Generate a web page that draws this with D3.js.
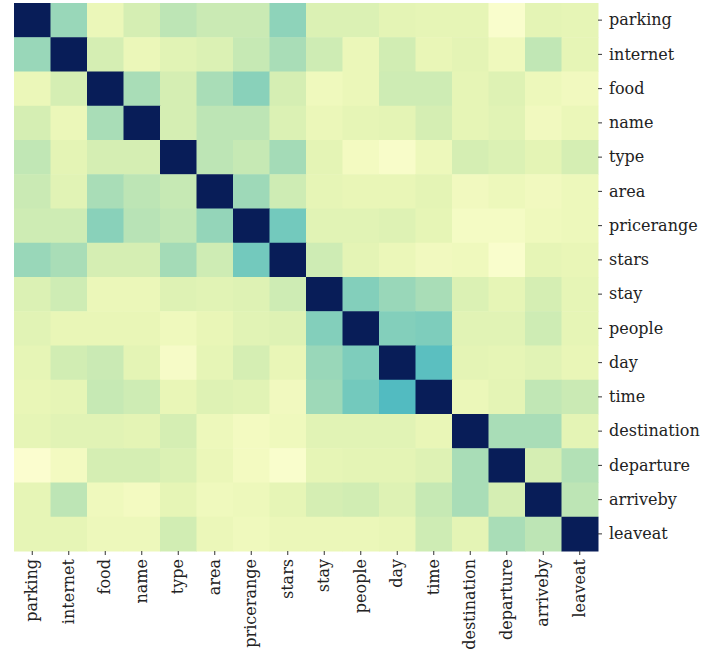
<!DOCTYPE html>
<html>
<head>
<meta charset="utf-8">
<script src="https://cdn.jsdelivr.net/npm/d3@7"></script>
<style>
  html, body { margin: 0; padding: 0; background: #fff; }
  svg text { font-family: "DejaVu Serif", serif; fill: #222; }
</style>
</head>
<body>
<svg id="chart" width="702" height="651"></svg>
<script>
// Slot names (rows and columns share the same order)
const slots = ["parking", "internet", "food", "name", "type", "area", "pricerange", "stars",
               "stay", "people", "day", "time", "destination", "departure", "arriveby", "leaveat"];

// Pairwise similarity, one row per slot
const parkingRow     = [1.00, 0.33, 0.12, 0.20, 0.26, 0.23, 0.23, 0.35, 0.18, 0.18, 0.15, 0.14, 0.14, 0.04, 0.15, 0.14];
const internetRow    = [0.33, 1.00, 0.20, 0.12, 0.16, 0.18, 0.24, 0.30, 0.22, 0.12, 0.21, 0.13, 0.15, 0.10, 0.25, 0.14];
const foodRow        = [0.12, 0.20, 1.00, 0.30, 0.20, 0.30, 0.36, 0.20, 0.10, 0.12, 0.22, 0.22, 0.14, 0.17, 0.11, 0.09];
const nameRow        = [0.20, 0.12, 0.30, 1.00, 0.20, 0.26, 0.26, 0.18, 0.12, 0.14, 0.15, 0.20, 0.14, 0.16, 0.09, 0.12];
const typeRow        = [0.25, 0.15, 0.20, 0.20, 1.00, 0.26, 0.24, 0.31, 0.15, 0.08, 0.05, 0.11, 0.20, 0.18, 0.15, 0.20];
const areaRow        = [0.23, 0.16, 0.30, 0.26, 0.24, 1.00, 0.32, 0.22, 0.14, 0.13, 0.13, 0.15, 0.09, 0.11, 0.09, 0.11];
const pricerangeRow  = [0.22, 0.22, 0.36, 0.27, 0.25, 0.34, 1.00, 0.40, 0.16, 0.16, 0.17, 0.14, 0.07, 0.07, 0.10, 0.11];
const starsRow       = [0.33, 0.30, 0.20, 0.20, 0.31, 0.22, 0.40, 1.00, 0.22, 0.15, 0.12, 0.09, 0.10, 0.04, 0.14, 0.13];
const stayRow        = [0.18, 0.22, 0.12, 0.12, 0.17, 0.16, 0.17, 0.22, 1.00, 0.37, 0.33, 0.30, 0.18, 0.14, 0.20, 0.14];
const peopleRow      = [0.16, 0.13, 0.13, 0.13, 0.10, 0.13, 0.16, 0.17, 0.37, 1.00, 0.37, 0.38, 0.16, 0.16, 0.22, 0.14];
const dayRow         = [0.14, 0.21, 0.23, 0.15, 0.06, 0.14, 0.20, 0.13, 0.33, 0.38, 1.00, 0.45, 0.15, 0.14, 0.16, 0.13];
const timeRow        = [0.13, 0.14, 0.24, 0.22, 0.13, 0.17, 0.16, 0.09, 0.32, 0.40, 0.47, 1.00, 0.12, 0.15, 0.25, 0.23];
const destinationRow = [0.14, 0.16, 0.16, 0.15, 0.20, 0.11, 0.08, 0.10, 0.16, 0.16, 0.16, 0.13, 1.00, 0.30, 0.30, 0.15];
const departureRow   = [0.03, 0.08, 0.20, 0.20, 0.18, 0.12, 0.08, 0.04, 0.14, 0.15, 0.15, 0.17, 0.30, 1.00, 0.20, 0.28];
const arrivebyRow    = [0.14, 0.26, 0.10, 0.08, 0.14, 0.10, 0.11, 0.14, 0.20, 0.21, 0.17, 0.24, 0.30, 0.20, 1.00, 0.26];
const leaveatRow     = [0.14, 0.14, 0.11, 0.11, 0.21, 0.12, 0.10, 0.12, 0.12, 0.12, 0.13, 0.22, 0.15, 0.30, 0.26, 1.00];

const matrix = [parkingRow, internetRow, foodRow, nameRow, typeRow, areaRow, pricerangeRow, starsRow,
                stayRow, peopleRow, dayRow, timeRow, destinationRow, departureRow, arrivebyRow, leaveatRow];

const cells = [];
matrix.forEach((row, i) => row.forEach((v, j) => cells.push({ r: slots[i], c: slots[j], v })));

const svg = d3.select("#chart");
const gridLeft = 14, gridRight = 598, gridTop = 3, gridBottom = 551;

const x = d3.scaleBand().domain(slots).range([gridLeft, gridRight]);
const y = d3.scaleBand().domain(slots).range([gridTop, gridBottom]);
const color = d3.scaleSequential(d3.interpolateYlGnBu).domain([0, 1]);

svg.append("g")
  .selectAll("rect")
  .data(cells)
  .join("rect")
  .attr("x", d => x(d.c))
  .attr("y", d => y(d.r))
  .attr("width", x.bandwidth() + 0.5)
  .attr("height", y.bandwidth() + 0.5)
  .attr("fill", d => color(d.v));

// Row labels on the right
const yAxis = svg.append("g")
  .attr("transform", `translate(${gridRight},0)`)
  .call(d3.axisRight(y).tickSize(4).tickPadding(7));
yAxis.select(".domain").remove();
yAxis.selectAll("text").style("font-size", "16px").style("font-family", "DejaVu Serif, serif").attr("fill", "#222");
yAxis.selectAll("line").attr("stroke", "#333");

// Column labels along the bottom, rotated
const xAxis = svg.append("g")
  .attr("transform", `translate(0,${gridBottom})`)
  .call(d3.axisBottom(x).tickSize(4).tickPadding(4));
xAxis.select(".domain").remove();
xAxis.selectAll("line").attr("stroke", "#333");
xAxis.selectAll("text")
  .style("font-size", "16px")
  .style("font-family", "DejaVu Serif, serif")
  .attr("fill", "#222")
  .attr("transform", "rotate(-90)")
  .attr("text-anchor", "end")
  .attr("x", -8)
  .attr("y", 0)
  .attr("dy", "0.32em");
</script>
</body>
</html>
